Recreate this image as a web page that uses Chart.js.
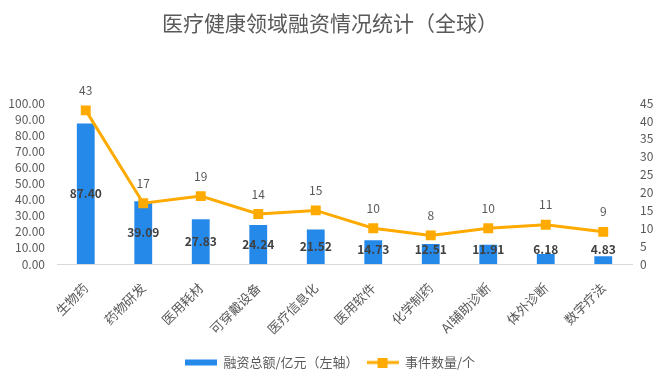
<!DOCTYPE html>
<html>
<head>
<meta charset="utf-8">
<script src="https://cdn.jsdelivr.net/npm/chart.js@4.4.1/dist/chart.umd.min.js"></script>
<style>
  html, body { margin: 0; padding: 0; background: #fff; }
  #wrap { width: 660px; height: 390px; }
</style>
</head>
<body>
<div id="wrap"><canvas id="financeChart"></canvas></div>
<script>
// chart data
const categories = ["生物药", "药物研发", "医用耗材", "可穿戴设备", "医疗信息化", "医用软件", "化学制药", "AI辅助诊断", "体外诊断", "数字疗法"];
const amounts = [87.40, 39.09, 27.83, 24.24, 21.52, 14.73, 12.51, 11.91, 6.18, 4.83];
const counts = [43, 17, 19, 14, 15, 10, 8, 10, 11, 9];
const leftTicks = [0, 10, 20, 30, 40, 50, 60, 70, 80, 90, 100];
const rightTicks = [0, 5, 10, 15, 20, 25, 30, 35, 40, 45];

const FONT = "'Noto Sans CJK SC', 'Noto Sans', sans-serif";
const blue = '#2589EA';
const orange = '#FFAA00';
const grey = '#595959';

// legend swatches drawn on small canvases
function makeSwatch(kind) {
  const c = document.createElement('canvas');
  c.width = 32; c.height = 10;
  const g = c.getContext('2d');
  if (kind === 'bar') {
    g.fillStyle = blue;
    g.fillRect(0, 2, 32, 6);
  } else {
    g.fillStyle = orange;
    g.fillRect(0, 3.5, 32, 3);
    g.fillRect(11, 0, 10, 10);
  }
  return c;
}
const barSwatch = makeSwatch('bar');
const lineSwatch = makeSwatch('line');

// value labels: bar values centred (kept above the axis), counts above points
const valueLabels = {
  id: 'valueLabels',
  afterDatasetsDraw(chart) {
    const ctx = chart.ctx;
    ctx.save();
    ctx.textAlign = 'center';
    ctx.textBaseline = 'middle';
    chart.getDatasetMeta(0).data.forEach((bar, i) => {
      const y = Math.min((bar.y + bar.base) / 2, bar.base - 15);
      ctx.font = "bold 12px " + FONT;
      ctx.fillStyle = '#404040';
      ctx.fillText(amounts[i].toFixed(2), bar.x, y);
    });
    chart.getDatasetMeta(1).data.forEach((pt, i) => {
      ctx.font = "12px " + FONT;
      ctx.fillStyle = grey;
      ctx.fillText(String(counts[i]), pt.x, pt.y - 20);
    });
    ctx.restore();
  }
};

const ctx = document.getElementById('financeChart').getContext('2d');
new Chart(ctx, {
  type: 'bar',
  data: {
    labels: categories,
    datasets: [
      {
        label: '融资总额/亿元（左轴）',
        data: amounts,
        backgroundColor: blue,
        yAxisID: 'y',
        barPercentage: 0.31,
        categoryPercentage: 1,
        order: 2
      },
      {
        type: 'line',
        label: '事件数量/个',
        data: counts,
        borderColor: orange,
        backgroundColor: orange,
        borderWidth: 3,
        pointStyle: 'rect',
        pointRadius: 7,
        pointBorderWidth: 0,
        yAxisID: 'y1',
        order: 1
      }
    ]
  },
  options: {
    responsive: true,
    maintainAspectRatio: false,
    animation: false,
    layout: { padding: { top: 0, bottom: 11, left: 0, right: 0 } },
    plugins: {
      title: {
        display: true,
        text: '医疗健康领域融资情况统计（全球）',
        color: grey,
        font: { family: FONT, size: 21, weight: 'normal' },
        padding: { top: 10, bottom: 68 }
      },
      legend: {
        position: 'bottom',
        labels: {
          usePointStyle: true,
          pointStyleWidth: 32,
          padding: 8,
          color: grey,
          font: { family: FONT, size: 13 },
          generateLabels: () => [
            { text: '融资总额/亿元（左轴）', pointStyle: barSwatch, fontColor: grey, datasetIndex: 0, lineWidth: 0 },
            { text: '事件数量/个', pointStyle: lineSwatch, fontColor: grey, datasetIndex: 1, lineWidth: 0 }
          ]
        }
      },
      tooltip: { enabled: false }
    },
    scales: {
      x: {
        grid: { display: false, drawTicks: false },
        border: { color: '#D9D9D9', width: 1 },
        ticks: {
          autoSkip: false,
          maxRotation: 45,
          minRotation: 45,
          padding: 16,
          color: grey,
          font: { family: FONT, size: 13 }
        },
        afterFit(scale) { scale.height = 84; }
      },
      y: {
        position: 'left',
        min: 0,
        max: 100,
        grid: { display: false, drawTicks: false },
        border: { display: false },
        afterBuildTicks(scale) { scale.ticks = leftTicks.map(v => ({ value: v })); },
        ticks: {
          autoSkip: false,
          padding: 12,
          color: grey,
          font: { family: FONT, size: 12 },
          callback: v => v.toFixed(2)
        },
        afterFit(scale) { scale.width = 57; }
      },
      y1: {
        position: 'right',
        min: 0,
        max: 45,
        grid: { display: false, drawTicks: false },
        border: { display: false },
        afterBuildTicks(scale) { scale.ticks = rightTicks.map(v => ({ value: v })); },
        ticks: {
          autoSkip: false,
          padding: 8,
          color: grey,
          font: { family: FONT, size: 12 }
        },
        afterFit(scale) { scale.width = 28; }
      }
    }
  },
  plugins: [valueLabels]
});
</script>
</body>
</html>
